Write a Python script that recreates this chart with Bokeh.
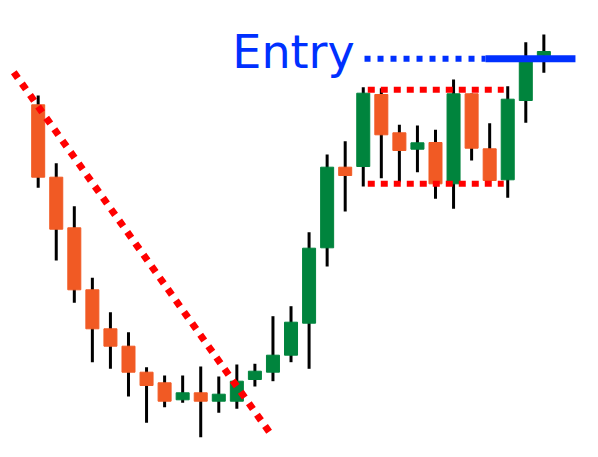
import numpy as np
from bokeh.plotting import figure
from bokeh.models import ColumnDataSource, Range1d
from bokeh.core.properties import value
from bokeh.embed import file_html
from bokeh.resources import INLINE

# OHLC values (arbitrary price units)
opens  = [355.7, 283.3, 232.7, 170.7, 131.7, 114.3, 88.3, 77.7, 60.7, 67.7, 59.3, 59.3, 81.0, 88.3, 105.3,
          137.3, 212.7, 293.3, 294.0, 366.0, 327.7, 311.3, 318.0, 276.7, 366.7, 311.7, 280.7, 360.0, 404.7]
highs  = [365.0, 297.3, 254.3, 182.7, 148.3, 128.3, 93.3, 85.0, 85.0, 94.0, 84.0, 96.0, 96.7, 144.3, 154.3,
          228.3, 306.0, 319.3, 373.3, 372.3, 335.7, 335.0, 330.7, 381.0, 367.0, 337.3, 374.3, 418.3, 426.0]
lows   = [272.7, 200.0, 157.7, 98.3, 91.7, 64.0, 37.7, 53.3, 57.7, 23.3, 47.7, 51.7, 74.0, 79.3, 98.3,
          91.7, 194.0, 249.0, 274.0, 282.3, 278.3, 288.3, 261.7, 251.7, 300.0, 280.0, 262.7, 337.7, 387.7]
closes = [283.3, 231.3, 170.7, 131.7, 114.3, 88.3, 75.0, 59.3, 67.7, 59.3, 66.3, 79.3, 89.3, 105.3, 138.3,
          212.3, 293.3, 285.0, 367.3, 325.7, 310.0, 317.7, 276.7, 366.7, 312.3, 280.0, 361.3, 400.7, 409.0]

# annotations
trend_x = [-1.35, 12.96]
trend_y = [388.3, 24.3]
range_x = [18.25, 25.78]
range_top = 370.7
range_bottom = 276.7
entry_level = 401.7
entry_dotted_x = [18.07, 24.77]
entry_solid_x = [24.77, 29.75]
entry_label = "Entry"
entry_label_x = 10.75
entry_label_y = 408.3

ORANGE = "#F15A24"
GREEN = "#00843D"
RED = "#FF0000"
BLUE = "#0030FF"

idx = list(range(len(opens)))
bull = [c >= o for o, c in zip(opens, closes)]
src = ColumnDataSource(dict(
    x=idx,
    top=[max(o, c) for o, c in zip(opens, closes)],
    bottom=[min(o, c) for o, c in zip(opens, closes)],
    high=highs, low=lows,
    color=[GREEN if b else ORANGE for b in bull],
))

p = figure(width=582, height=441, output_backend="svg", toolbar_location=None,
           x_range=Range1d(-2.087, 30.14), y_range=Range1d(19, 460),
           min_border=0, outline_line_color=None)
p.axis.visible = False
p.grid.visible = False
p.background_fill_color = "white"

p.segment(x0="x", x1="x", y0="low", y1="high", source=src, line_color="black", line_width=3)
p.vbar(x="x", top="top", bottom="bottom", width=0.72, source=src,
       fill_color="color", line_color="color", line_width=1)

# trend line
p.line(trend_x, trend_y, line_color=RED, line_width=7, line_dash="7 7")
# consolidation range (top and bottom only)
p.line(range_x, [range_top, range_top], line_color=RED, line_width=6, line_dash="7 6")
p.line(range_x, [range_bottom, range_bottom], line_color=RED, line_width=6, line_dash="7 6")
# entry
p.line(entry_dotted_x, [entry_level, entry_level], line_color=BLUE, line_width=6, line_dash="6 7")
p.line(entry_solid_x, [entry_level, entry_level], line_color=BLUE, line_width=7)
p.text(x=[entry_label_x], y=[entry_label_y], text=[entry_label], text_color=BLUE,
       text_font=value("DejaVu Sans"), text_font_size="46px",
       text_align="left", text_baseline="alphabetic")

open("out.html", "w").write(file_html(p, INLINE))
